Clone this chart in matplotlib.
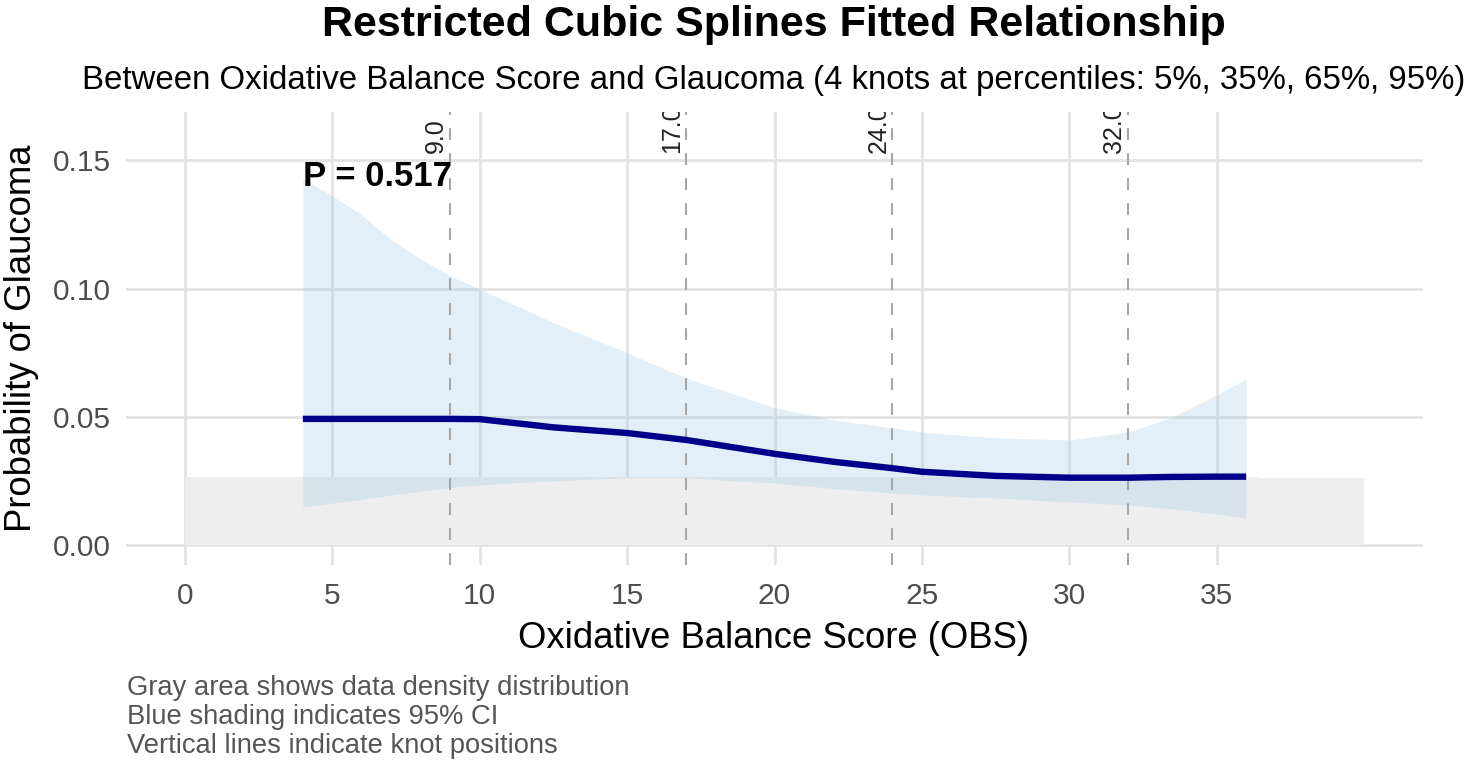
import matplotlib
matplotlib.use("Agg")
import matplotlib.pyplot as plt

plt.rcParams['font.family'] = ['Liberation Sans', 'DejaVu Sans']
plt.rcParams['lines.scale_dashes'] = False

# fitted spline and 95% CI
obs = [4, 5, 6, 7, 8, 9, 10, 12.5, 15, 17, 20, 22, 24, 25, 27.5, 30, 32, 33.5, 35, 36]
fit = [0.0493, 0.0493, 0.0493, 0.0493, 0.0493, 0.0493, 0.0492, 0.0460, 0.0438, 0.0411,
       0.0357, 0.0326, 0.0301, 0.0287, 0.0271, 0.0264, 0.0264, 0.0267, 0.0268, 0.0268]
upper = [0.1430, 0.1361, 0.1287, 0.1190, 0.1115, 0.1050, 0.0998, 0.0868, 0.0750, 0.0652,
         0.0537, 0.0489, 0.0458, 0.0442, 0.0419, 0.0411, 0.0442, 0.0500, 0.0586, 0.0648]
lower = [0.0150, 0.0165, 0.0180, 0.0196, 0.0212, 0.0226, 0.0236, 0.0252, 0.0263, 0.0263,
         0.0243, 0.0222, 0.0204, 0.0197, 0.0185, 0.0169, 0.0158, 0.0143, 0.0123, 0.0107]

# gray density band
density_x = [0, 36.4, 36.4, 40]
density_y = [0.0268, 0.0268, 0.0263, 0.0263]

knots = [9, 17, 24, 32]
knot_labels = ["9.0", "17.0", "24.0", "32.0"]
x_ticks = [0, 5, 10, 15, 20, 25, 30, 35]
y_ticks = [0.00, 0.05, 0.10, 0.15]
p_label = "P = 0.517"

title = "Restricted Cubic Splines Fitted Relationship"
subtitle = ("Between Oxidative Balance Score and Glaucoma "
            "(4 knots at percentiles: 5%, 35%, 65%, 95%)")
caption_lines = ["Gray area shows data density distribution",
                 "Blue shading indicates 95% CI",
                 "Vertical lines indicate knot positions"]

W, H = 1477, 770
fig = plt.figure(figsize=(W / 100, H / 100), dpi=100)
ax = fig.add_axes([126 / W, 1 - 565 / H, (1423 - 126) / W, (565 - 112) / H])

ax.fill_between(density_x, 0, density_y, color="#EEEEEE", lw=0, zorder=1)
ax.fill_between(obs, lower, upper, color="#9CC8E6", alpha=0.28, lw=0, zorder=2)
ax.plot(obs, fit, color="#00008B", lw=4.6, solid_capstyle="butt", zorder=4)

for k, lab in zip(knots, knot_labels):
    ax.axvline(k, color="#A6A6A6", lw=1.5, dashes=(8.5, 9.5), zorder=3)
    ax.annotate(lab, (k, 0.153), xytext=(-1.5, 0), textcoords="offset points",
                rotation=90, ha="right", va="bottom", fontsize=18,
                color="#222222", clip_on=True, annotation_clip=False)

ax.text(4, 0.14, p_label, fontsize=25, fontweight="bold", ha="left",
        va="baseline", zorder=5)

ax.set_xlim(-2, 42)
ax.set_ylim(-0.0076, 0.1688)
ax.set_xticks(x_ticks)
ax.set_yticks(y_ticks)
ax.set_xticklabels([str(t) for t in x_ticks])
ax.set_yticklabels([f"{t:.2f}" for t in y_ticks])
ax.tick_params(length=0, labelsize=21.5, labelcolor="#4D4D4D")
ax.tick_params(axis="x", pad=12)
ax.tick_params(axis="y", pad=11)
ax.grid(True, color="#E3E3E3", lw=2.0, zorder=0)
ax.set_axisbelow(True)
for s in ax.spines.values():
    s.set_visible(False)

fig.text(774 / W, 1 - 638 / H, "Oxidative Balance Score (OBS)", fontsize=26.3,
         ha="center", va="center")
fig.text(22 / W, 1 - 338 / H, "Probability of Glaucoma", fontsize=26.3,
         rotation=90, ha="center", va="center")
fig.text(774 / W, 1 - 25 / H, title, fontsize=31, fontweight="bold",
         ha="center", va="center")
fig.text(774 / W, 1 - 81 / H, subtitle, fontsize=23.8, ha="center", va="center")
for i, line in enumerate(caption_lines):
    fig.text(127 / W, 1 - (688 + 29 * i) / H, line, fontsize=19.7,
             color="#555555", ha="left", va="center")

fig.savefig("out.png", dpi=100)
